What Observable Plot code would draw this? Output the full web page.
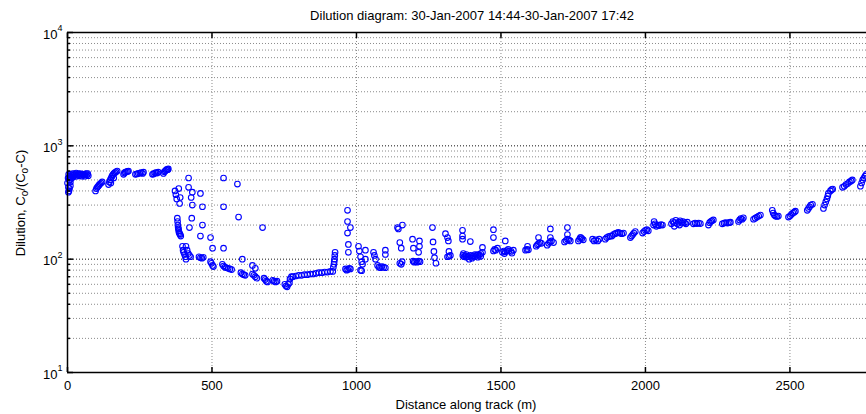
<!DOCTYPE html>
<html><head><meta charset="utf-8">
<script src="https://cdn.jsdelivr.net/npm/d3@7"></script>
<script src="https://cdn.jsdelivr.net/npm/@observablehq/plot@0.6"></script>
<style>body{margin:0;background:#fff;}</style>
</head><body><div id="chart"></div>
<script>
// Dense track band (distance m, dilution)
const band = [
[0,470],[2,520],[3,430],[3,390],[4,560],[4,520],[5,400],[6,500],[7,420],[8,540],[8,500],[10,480],[10,445],[12,560],[12,530],[14,520],[16,545],[18,570],[20,550],[20,530],[24,560],[28,555],[30,575],[32,540],[36,560],[40,570],[40,545],[44,550],[48,565],[50,540],[52,555],[56,560],[60,540],[60,560],[64,570],[68,555],[70,570],[72,545],
[97,400],[100,420],[103,430],[106,440],[109,450],[112,460],[116,470],[120,480],
[142,455],[145,480],[148,500],[150,470],[151,520],[154,540],[157,555],[160,570],[160,520],[164,580],[168,590],[172,600],
[194,560],[197,575],[200,585],[204,590],[208,595],[211,600],
[235,560],[240,565],[245,570],[250,575],[255,580],[260,570],[263,585],
[294,560],[298,565],[302,575],[306,580],[310,575],[314,585],
[332,570],[335,590],[338,600],[341,610],[344,620],[347,615],[349,625],
[380,230],[381,215],[382,200],[383,190],[384,185],[385,178],[386,172],[388,168],[390,165],[392,160],
[398,130],[400,120],[402,115],[405,110],[408,105],[410,100],
[410,130],[414,120],[418,112],[422,108],[426,105],
[455,105],[460,103],[465,102],[470,104],
[495,95],[498,92],[502,88],[505,86],
[536,90],[540,87],[545,85],[550,84],[556,83],[562,82],[568,81],
[600,76],[605,74],[610,73],[615,72],
[640,74],[645,72],[650,70],[655,68],
[680,68],[684,66],[688,64],[692,63],
[710,65],[715,64],[720,63],[725,64],
[752,60],[756,58],[760,57],[764,60],[768,62],[770,67],
[775,70],[780,70],[790,71],[800,72],[810,72],[820,73],[830,73],[840,74],[850,74],[860,75],[870,76],[880,76],[890,77],[900,77],[910,78],[918,78],
[920,85],[922,90],[923,95],[924,100],[925,108],[926,115],
[962,82],[966,80],[970,81],[975,83],[979,82],
[1014,80],[1018,79],
[1073,88],[1078,85],[1083,84],[1088,86],[1094,85],[1100,84],
[1150,92],[1155,90],
[1196,96],[1200,94],[1205,95],[1210,94],[1215,96],[1220,95],
[1275,92],
[1315,105],[1320,106],[1325,108],
[1368,108],[1370,112],[1372,105],[1376,107],[1380,104],[1380,110],[1385,106],[1390,105],[1390,100],[1395,108],[1400,106],[1400,102],[1405,107],[1410,105],[1410,110],[1415,108],[1420,110],[1420,104],[1425,109],[1430,112],[1430,106],[1436,115],
[1474,118],[1478,122],[1482,120],[1488,125],
[1505,115],[1510,118],[1512,112],[1515,116],[1520,119],[1525,122],[1528,118],[1535,117],[1538,113],[1543,120],
[1585,120],[1590,122],[1595,121],
[1622,130],[1626,134],[1630,137],[1635,140],[1640,138],
[1660,133],[1665,138],[1670,142],[1675,145],[1682,140],
[1720,142],[1725,146],[1730,150],[1735,148],[1740,145],
[1768,145],[1772,150],[1776,155],[1780,152],[1785,148],
[1817,150],[1822,145],[1828,148],[1835,145],[1840,150],
[1861,150],[1866,155],[1872,158],[1878,160],[1884,160],
[1889,165],[1895,168],[1900,170],[1906,172],[1912,170],[1918,168],[1924,170],
[1948,155],[1952,160],[1956,165],[1960,170],[1965,175],
[1990,170],[1995,175],[2000,180],[2005,182],[2010,178],
[2028,200],[2030,215],[2033,205],[2038,195],[2043,200],[2048,198],[2054,202],[2059,200],
[2090,205],[2095,215],[2100,210],[2100,195],[2105,220],[2110,205],[2115,212],[2118,200],[2120,218],[2125,208],[2130,215],[2135,210],[2140,205],[2145,212],
[2166,205],[2172,208],[2178,206],[2184,208],[2190,206],
[2218,200],[2222,210],[2226,215],[2230,218],[2235,222],
[2266,205],[2272,208],[2278,210],[2284,208],[2290,210],[2294,212],
[2322,215],[2326,222],[2330,228],[2335,225],[2339,232],
[2374,225],[2380,230],[2386,235],[2392,240],[2398,245],
[2439,270],[2442,255],[2446,245],[2450,240],[2455,238],[2460,240],
[2495,235],[2500,240],[2505,248],[2510,255],[2515,260],[2519,265],
[2560,270],[2564,280],[2568,290],[2572,300],[2578,305],
[2616,280],[2620,300],[2624,320],[2628,340],[2631,360],[2633,380],
[2640,400],[2644,410],[2648,415],
[2682,430],[2688,440],[2694,455],[2700,465],[2706,480],[2712,490],[2716,500],
[2744,440],[2748,470],[2752,500],[2756,520],[2760,540],[2764,560]
];
// Scattered individual readings
const scattered = [
[372,400],[375,370],[378,340],[385,420],[388,310],[390,350],
[419,520],[419,430],[432,390],[428,350],[432,300],[430,230],[422,190],[460,380],[467,290],[467,200],[460,160],[495,155],[502,125],[540,520],[540,290],[540,125],[588,460],[592,235],[605,100],[640,88],[650,83],[675,190],
[969,270],[969,215],[969,170],[972,135],[972,115],[979,190],
[1007,130],[1010,118],[1014,105],[1018,95],[1021,90],[1031,120],[1031,100],
[1059,115],[1062,108],[1066,100],[1100,120],[1100,110],
[1142,190],[1145,185],[1159,200],[1150,140],[1155,125],[1158,95],
[1194,150],[1197,125],[1218,145],[1218,130],[1215,115],
[1263,190],[1265,142],[1268,117],[1270,103],
[1308,168],[1315,155],[1318,145],[1320,117],
[1367,180],[1367,160],[1367,150],[1394,143],[1436,127],
[1474,182],[1474,155],[1515,145],[1592,130],[1630,155],[1671,185],[1671,155],[1730,190],[1730,165],[1775,155]
];
const xTicks = [0, 500, 1000, 1500, 2000, 2500];
const decades = [10, 100, 1000, 10000];
const decadeExp = ["1", "2", "3", "4"];
const minorTicks = [20,30,40,50,60,70,80,90,200,300,400,500,600,700,800,900,2000,3000,4000,5000,6000,7000,8000,9000];
const titleText = "Dilution diagram: 30-Jan-2007 14:44-30-Jan-2007 17:42";
const xLabelText = "Distance along track (m)";

const font = "'Liberation Sans', Arial, Helvetica, sans-serif";
const points = band.concat(scattered).map(([d, v]) => ({d, v}));

const plot = Plot.plot({
  width: 866, height: 414,
  marginLeft: 67, marginRight: 0, marginTop: 32, marginBottom: 42,
  style: {fontFamily: font, fontSize: "13px", background: "white", color: "black"},
  x: {domain: [0, 2765], axis: null},
  y: {type: "log", domain: [10, 10000], axis: null},
  marks: [
    Plot.ruleY(minorTicks, {stroke: "#8a8a8a", strokeDasharray: "1,2"}),
    Plot.ruleY([100, 1000], {stroke: "#111", strokeDasharray: "1,2"}),
    Plot.ruleX(xTicks.slice(1), {stroke: "#8a8a8a", strokeDasharray: "1,2"}),
    Plot.dot(points, {x: "d", y: "v", r: 2.8, stroke: "#0000ff", strokeWidth: 1.1, fill: "none"}),
    Plot.axisY(decades, {anchor: "left", tickSize: -6, tickFormat: () => "", label: null, strokeWidth: 1.5}),
    Plot.axisY(minorTicks, {anchor: "left", tickSize: -3, tickFormat: () => "", label: null, strokeWidth: 1.5}),
    Plot.axisX(xTicks, {anchor: "bottom", tickSize: -5, tickFormat: () => "", label: null, strokeWidth: 1.5}),
    Plot.axisX(xTicks, {anchor: "top", tickSize: -5, tickFormat: () => "", label: null, strokeWidth: 1.5}),
    Plot.axisX(xTicks, {anchor: "bottom", tickSize: 0, tickPadding: 8, tickFormat: d => String(d), label: null, fontSize: 13}),
    Plot.ruleX([0], {stroke: "black", strokeWidth: 1.5}),
    Plot.ruleY([10, 10000], {stroke: "black", strokeWidth: 1.5}),
    Plot.text(decades, {y: d => d, text: () => "10", frameAnchor: "left", textAnchor: "end", dx: -10, dy: 2, fontSize: 13}),
    Plot.text(decades, {y: d => d, text: (d, i) => decadeExp[i], frameAnchor: "left", textAnchor: "start", dx: -10, dy: -4, fontSize: 9})
  ]
});

const svg = d3.select(plot);
svg.append("text")
  .attr("x", 472).attr("y", 15).attr("dy", "0.35em")
  .attr("text-anchor", "middle").attr("font-size", 13).attr("font-family", font)
  .attr("fill", "black").text(titleText);
svg.append("text")
  .attr("x", 466).attr("y", 404).attr("dy", "0.35em")
  .attr("text-anchor", "middle").attr("font-size", 13).attr("font-family", font)
  .attr("fill", "black").text(xLabelText);
const yl = svg.append("text")
  .attr("transform", "translate(20,203) rotate(-90)")
  .attr("dy", "0.35em")
  .attr("text-anchor", "middle").attr("font-size", 13).attr("font-family", font)
  .attr("fill", "black");
yl.append("tspan").text("Dilution, C");
yl.append("tspan").attr("dy", 3).attr("font-size", 10).text("o");
yl.append("tspan").attr("dy", -3).text("/(C");
yl.append("tspan").attr("dy", 3).attr("font-size", 10).text("o");
yl.append("tspan").attr("dy", -3).text("-C)");

document.getElementById("chart").appendChild(plot);
</script>
</body></html>
